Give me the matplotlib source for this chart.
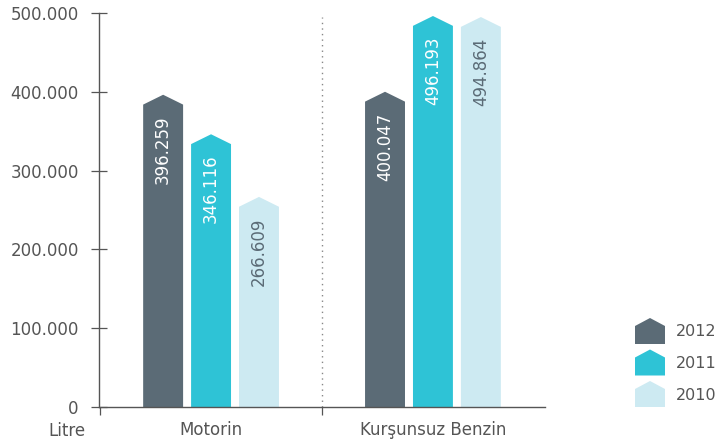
import matplotlib.pyplot as plt
from matplotlib.patches import Polygon

categories = ['Motorin', 'Kurşunsuz Benzin']
years = ['2012', '2011', '2010']
values = {
    '2012': [396259, 400047],
    '2011': [346116, 496193],
    '2010': [266609, 494864],
}
colors = {'2012': '#5b6b76', '2011': '#2ec3d6', '2010': '#cdeaf2'}
label_colors = {'2012': 'white', '2011': 'white', '2010': '#5b6b76'}

GRAY = '#555555'
W, H = 719, 446
plt.rcParams['font.family'] = ['DejaVu Sans']

fig = plt.figure(figsize=(W / 100, H / 100), dpi=100)
ax = fig.add_axes([99 / W, 39 / H, 446 / W, 394 / H])

width = 0.18
step = 0.216
peak = 12500  # height of the pointed roof in data units


def fmt(v):
    return '{:,}'.format(v).replace(',', '.')


for i, year in enumerate(years):
    for j, v in enumerate(values[year]):
        xc = j + (i - 1) * step
        x0, x1 = xc - width / 2, xc + width / 2
        poly = Polygon([(x0, 0), (x1, 0), (x1, v - peak), (xc, v), (x0, v - peak)],
                       closed=True, facecolor=colors[year], edgecolor='none')
        ax.add_patch(poly)
        ax.text(xc, v - 26000, fmt(v), rotation=90, ha='center', va='top',
                fontsize=12, color=label_colors[year])

ax.set_xlim(-0.505, 1.505)
ax.set_ylim(0, 500000)

# dotted separator between groups
ax.plot([0.5, 0.5], [0, 495000], linestyle=(0, (1, 3)), color='#888888', lw=1)

for s in ['top', 'right']:
    ax.spines[s].set_visible(False)
for s in ['left', 'bottom']:
    ax.spines[s].set_color(GRAY)
    ax.spines[s].set_linewidth(1)

yt = [0, 100000, 200000, 300000, 400000, 500000]
ax.set_yticks(yt)
ax.set_yticklabels(['0' if t == 0 else fmt(t) for t in yt])
ax.tick_params(axis='y', direction='inout', length=11, width=0.9, color=GRAY,
               labelcolor=GRAY, labelsize=12, pad=9)

ax.set_xticks([0, 1])
ax.set_xticklabels(categories)
ax.tick_params(axis='x', length=0, labelcolor=GRAY, labelsize=12, pad=10)
ax.set_xticks([-0.5, 0.5], minor=True)
ax.tick_params(axis='x', which='minor', direction='out', length=6, width=0.9, color=GRAY)

fig.text(67 / W, 1 - 431 / H, 'Litre', ha='center', va='center', fontsize=12, color=GRAY)

# legend: house-shaped swatches
for k, year in enumerate(years):
    cy = 331 + k * 31.5
    x0, x1, xm = 635, 665, 650
    top, shoulder, bottom = cy - 13, cy - 5, cy + 13
    pts = [(x0, bottom), (x1, bottom), (x1, shoulder), (xm, top), (x0, shoulder)]
    pts = [(px / W, 1 - py / H) for px, py in pts]
    fig.add_artist(Polygon(pts, closed=True, transform=fig.transFigure,
                           facecolor=colors[year], edgecolor='none'))
    fig.text(676 / W, 1 - (cy + 1) / H, year, ha='left', va='center',
             fontsize=11.5, color=GRAY)

fig.savefig('out.png', dpi=100)
